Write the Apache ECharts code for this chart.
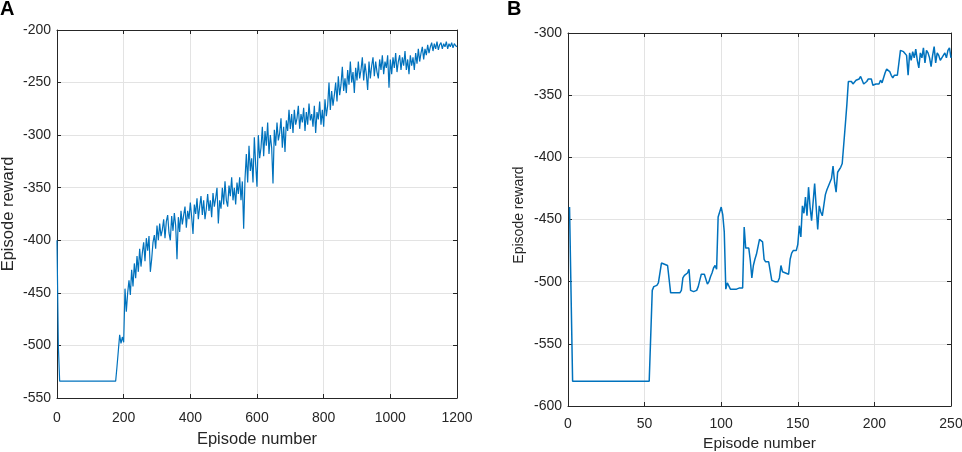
<!DOCTYPE html>
<html lang="en">
<head>
<meta charset="UTF-8" />
<script src="https://cdn.jsdelivr.net/npm/echarts@6/dist/echarts.min.js"></script>
<title>Episode reward</title>
<style>
    html, body { margin: 0; padding: 0; background: #fff; }
    #chart { width: 962px; height: 452px; }
</style>
</head>
<body>
<div id="chart"></div>
<script type="text/javascript">
// panel A: one value every 4 episodes, starting at episode 0
var stepA = 4;
var rewardsA = [
    -400, -500,
    -534, -534, -534, -534, -534, -534, -534, -534, -534, -534,
    -534, -534, -534, -534, -534, -534, -534, -534, -534, -534,
    -534, -534, -534, -534, -534, -534, -534, -534, -534, -534,
    -534, -534, -534, -534, -534, -534, -534, -534, -534, -534,
    -534, -534, -534,
    -520, -505, -490, -498, -492, -497, -446, -468, -450, -438,
    -452, -428, -444, -422, -436, -415, -430, -408, -425, -412,
    -402, -420, -398, -410, -396, -430, -418, -402, -395, -408,
    -386, -400, -384, -396, -390, -380, -398, -382, -376, -393,
    -400, -377, -391, -374, -386, -418, -378, -392, -372, -385,
    -376, -368, -388, -372, -380, -364, -378, -394, -366, -375,
    -360, -380, -368, -358, -376, -362, -380, -370, -356, -372,
    -362, -378, -355, -368, -360, -350, -384, -362, -370, -350,
    -366, -344, -362, -368, -348, -358, -340, -362, -350, -366,
    -345, -356, -340, -362, -344, -389, -342, -318, -345, -310,
    -334, -322, -345, -302, -328, -349, -300, -322, -312, -292,
    -320, -296, -310, -288, -318, -300, -312, -346, -295, -310,
    -288, -305, -298, -284, -312, -292, -316, -286, -296, -276,
    -294, -280, -298, -276, -290, -284, -272, -294, -280, -288,
    -274, -296, -278, -290, -270, -286, -280, -292, -272, -298,
    -278, -285, -268, -290, -276, -292, -266, -282, -272, -250,
    -276, -258, -272, -262, -250, -268, -244, -262, -252, -235,
    -258, -246, -260, -238, -252, -230, -250, -240, -260, -236,
    -248, -230, -246, -238, -226, -248, -232, -242, -257, -230,
    -246, -234, -226, -244, -230, -240, -246, -228, -238, -224,
    -242, -230, -236, -224, -255, -228, -242, -226, -236, -222,
    -240, -230, -224, -238, -226, -234, -220, -238, -228, -242,
    -224, -234, -226, -238, -222, -232, -218, -230, -222, -216,
    -228, -218, -224, -214, -222, -216, -212, -220, -213, -218,
    -211, -219, -214, -212, -218, -213, -216, -211, -218, -213,
    -216, -212, -217, -213, -215, -216
];

// panel B: episodes 1..250
var rewardsB = [
    -440, -510, -580,
    -580, -580, -580, -580, -580, -580, -580, -580, -580, -580,
    -580, -580, -580, -580, -580, -580, -580, -580, -580, -580,
    -580, -580, -580, -580, -580, -580, -580, -580, -580, -580,
    -580, -580, -580, -580, -580, -580, -580, -580, -580, -580,
    -580, -580, -580, -580, -580, -580, -580, -580, -580, -580,
    -580,
    -507, -504, -503, -503, -501, -500, -485, -486, -486, -487,
    -487, -488, -509, -509, -509, -509, -509, -509, -509, -507,
    -497, -495, -494, -493, -490, -507, -508, -508, -508, -507,
    -504, -499, -494, -495, -494, -494, -502, -500, -496, -493,
    -489, -487, -490, -448, -447, -440, -446, -460, -506, -501,
    -501, -506, -506, -506, -506, -506, -506, -505, -504, -505,
    -456, -473, -472, -473, -483, -497, -487, -482, -478, -472,
    -466, -465, -468, -482, -484, -484, -484, -484, -499, -500,
    -500, -500, -500, -497, -487, -492, -492, -493, -493, -494,
    -482, -477, -475, -476, -475, -470, -455, -464, -439, -445,
    -432, -447, -424, -440, -451, -452, -421, -440, -458, -439,
    -444, -447, -447, -430, -426, -423, -420, -417, -407, -420,
    -428, -412, -410, -408, -405, -404, -374, -358, -339, -340,
    -339, -341, -340, -338, -338, -337, -335, -335, -341, -341,
    -339, -337, -336, -337, -342, -342, -341, -340, -341, -338,
    -340, -336, -332, -329, -330, -331, -334, -336, -334, -334,
    -334, -334, -314, -313, -315, -314, -318, -334, -316, -322,
    -315, -320, -313, -322, -328, -316, -320, -312, -324, -314,
    -316, -320, -327, -318, -311, -324, -316, -318, -322, -320,
    -318, -316, -320, -314, -312, -320
];

var xRangeA = [0, 1200, 200];
var yRangeA = [-550, -200, 50];
var xRangeB = [0, 250, 50];
var yRangeB = [-600, -300, 50];

var lineColor = "#0072BD";
var axisColor = "#262626";
var fontName = "Liberation Sans, Arial, sans-serif";

var pointsA = rewardsA.map(function (v, i) { return [i * stepA, v]; });
var pointsB = rewardsB.map(function (v, i) { return [i + 1, v]; });

function mainAxis(grid, range, pos, name, nameSize, nameGap, labelMargin) {
    return {
        type: "value",
        gridIndex: grid,
        position: pos,
        min: range[0],
        max: range[1],
        interval: range[2],
        name: name,
        nameLocation: "middle",
        nameGap: nameGap,
        nameTextStyle: { fontFamily: fontName, fontSize: nameSize, color: axisColor },
        axisLine: { show: true, onZero: false, lineStyle: { color: axisColor, width: 1 } },
        axisTick: { show: true, inside: true, length: 4, lineStyle: { color: axisColor } },
        axisLabel: {
            fontFamily: fontName,
            fontSize: 14,
            color: axisColor,
            margin: labelMargin,
            formatter: function (v) { return String(v); }
        },
        splitLine: { show: true, lineStyle: { color: "#e3e3e3", width: 1 } }
    };
}

// top and right edges of the box, ticks only
function boxAxis(grid, range, pos) {
    return {
        type: "value",
        gridIndex: grid,
        position: pos,
        min: range[0],
        max: range[1],
        interval: range[2],
        axisLine: { show: true, onZero: false, lineStyle: { color: axisColor, width: 1 } },
        axisTick: { show: true, inside: true, length: 4, lineStyle: { color: axisColor } },
        axisLabel: { show: false },
        splitLine: { show: false }
    };
}

var chart = echarts.init(document.getElementById("chart"));

var yNameB = mainAxis(1, yRangeB, "left", "Episode reward", 14, 42, 6);
yNameB.nameTextStyle.padding = [0, 0, 0, 9]; // sits a little above the middle

var option = {
    animation: false,
    backgroundColor: "#fff",
    graphic: [
        { type: "text", left: 0, top: -1, style: { text: "A", font: "bold 20px " + fontName, fill: "#000" } },
        { type: "text", left: 507, top: -1, style: { text: "B", font: "bold 20px " + fontName, fill: "#000" } }
    ],
    grid: [
        { left: 57, top: 30, width: 400, height: 368, outerBoundsMode: "none" },
        { left: 568, top: 33, width: 383, height: 373, outerBoundsMode: "none" }
    ],
    xAxis: [
        mainAxis(0, xRangeA, "bottom", "Episode number", 16.5, 33, 13),
        boxAxis(0, xRangeA, "top"),
        mainAxis(1, xRangeB, "bottom", "Episode number", 15.5, 30, 11),
        boxAxis(1, xRangeB, "top")
    ],
    yAxis: [
        mainAxis(0, yRangeA, "left", "Episode reward", 16.5, 40, 6),
        boxAxis(0, yRangeA, "right"),
        yNameB,
        boxAxis(1, yRangeB, "right")
    ],
    series: [
        {
            type: "line",
            xAxisIndex: 0,
            yAxisIndex: 0,
            data: pointsA,
            showSymbol: false,
            lineStyle: { color: lineColor, width: 1.2 }
        },
        {
            type: "line",
            xAxisIndex: 2,
            yAxisIndex: 2,
            data: pointsB,
            showSymbol: false,
            lineStyle: { color: lineColor, width: 1.5 }
        }
    ]
};

chart.setOption(option);
</script>
</body>
</html>
